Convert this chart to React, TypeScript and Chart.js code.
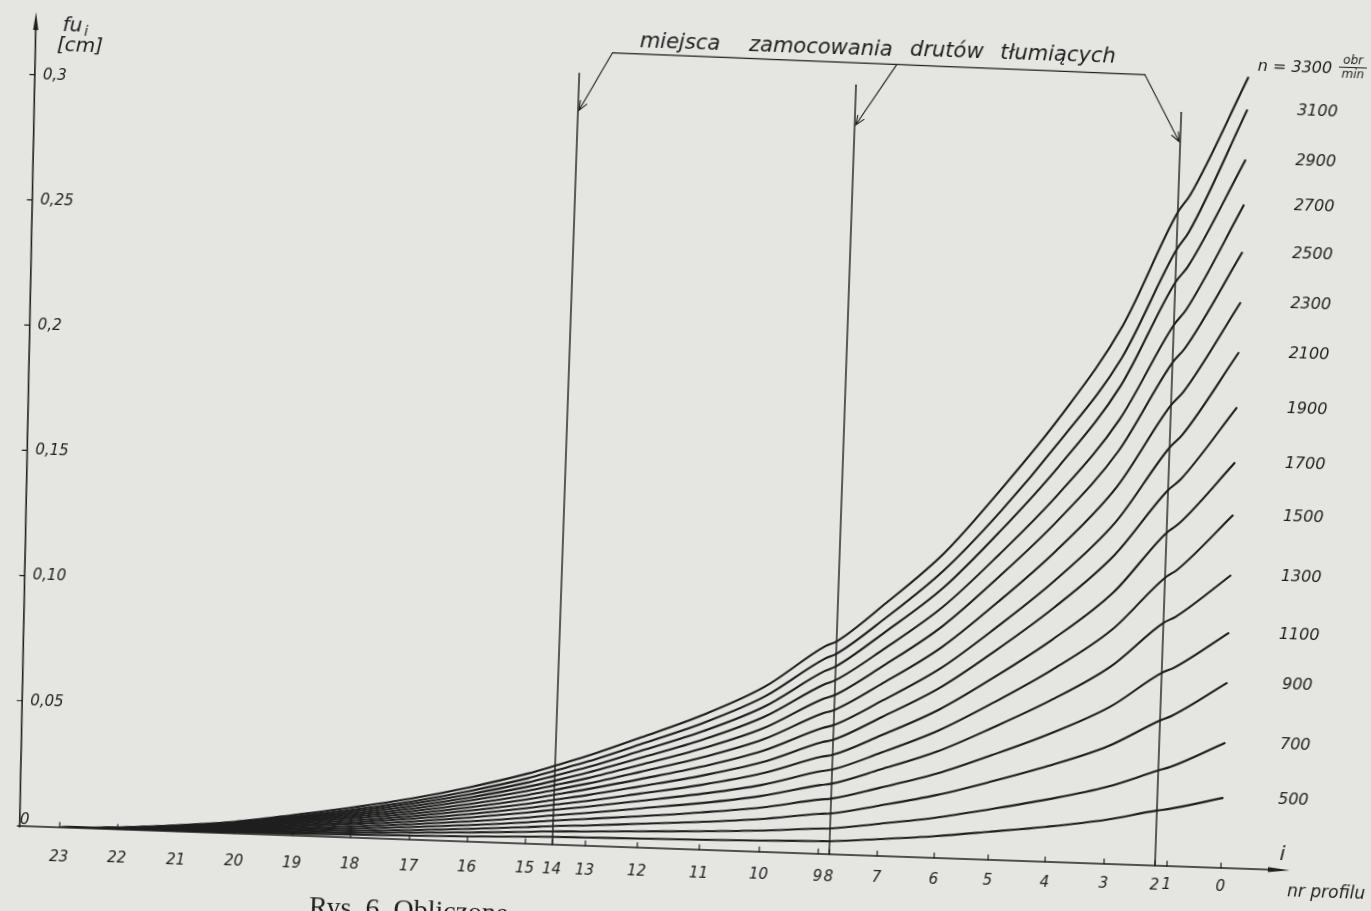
import React, { useEffect, useRef } from "react";
import { Chart, registerables } from "chart.js";

Chart.register(...registerables);

// ---------- data ----------
const profiles = [23, 22, 21, 20, 19, 18, 17, 16, 15, 14, 13, 12, 11, 10, 9, 8, 7, 6, 5, 4, 3, 2, 1, 0];
const profilePos = [0, 5.8, 11.7, 17.5, 23.3, 29.1, 35.0, 40.8, 46.6, 49.3, 52.6, 57.8, 64.0, 70.0, 75.9, 77.0, 81.8, 87.5, 92.9, 98.6, 104.5, 109.6, 110.8, 116.2];

const speeds = [3300, 3100, 2900, 2700, 2500, 2300, 2100, 1900, 1700, 1500, 1300, 1100, 900, 700, 500];

const n3300 = [0, 0.0008, 0.0025, 0.0047, 0.0082, 0.012, 0.0164, 0.0217, 0.028, 0.0315, 0.036, 0.044, 0.054, 0.066, 0.083, 0.085, 0.101, 0.122, 0.148, 0.178, 0.215, 0.261, 0.2682, 0.316];
const n3100 = [0, 0.0007, 0.0023, 0.0044, 0.0076, 0.0111, 0.0152, 0.0202, 0.0261, 0.0295, 0.0337, 0.0413, 0.0507, 0.062, 0.078, 0.08, 0.095, 0.115, 0.139, 0.168, 0.202, 0.246, 0.2534, 0.303];
const n2900 = [0, 0.0007, 0.0022, 0.0041, 0.0071, 0.0104, 0.0143, 0.0189, 0.0244, 0.0275, 0.0314, 0.0386, 0.0474, 0.058, 0.073, 0.075, 0.0894, 0.108, 0.131, 0.158, 0.191, 0.233, 0.2395, 0.283];
const n2700 = [0, 0.0006, 0.002, 0.0038, 0.0066, 0.0097, 0.0133, 0.0176, 0.0227, 0.0255, 0.0292, 0.0358, 0.044, 0.0539, 0.0677, 0.0695, 0.0828, 0.1003, 0.1218, 0.1467, 0.1775, 0.216, 0.2224, 0.265];
const n2500 = [0, 0.0006, 0.0019, 0.0036, 0.0062, 0.009, 0.0123, 0.0164, 0.0211, 0.0237, 0.027, 0.033, 0.0405, 0.0494, 0.062, 0.0636, 0.0761, 0.0925, 0.1127, 0.136, 0.1649, 0.201, 0.2069, 0.246];
const n2300 = [0, 0.0005, 0.0017, 0.0033, 0.0057, 0.0083, 0.0113, 0.015, 0.0194, 0.0218, 0.0248, 0.0302, 0.0369, 0.0449, 0.0562, 0.0576, 0.0691, 0.0841, 0.1027, 0.1242, 0.1508, 0.184, 0.1895, 0.226];
const n2100 = [0, 0.0005, 0.0016, 0.003, 0.0052, 0.0076, 0.0103, 0.0137, 0.0177, 0.0199, 0.0226, 0.0273, 0.0332, 0.0403, 0.0503, 0.0516, 0.0621, 0.0758, 0.0928, 0.1124, 0.1367, 0.167, 0.1721, 0.206];
const n1900 = [0, 0.0004, 0.0014, 0.0027, 0.0047, 0.0068, 0.0093, 0.0124, 0.0159, 0.0179, 0.0202, 0.0244, 0.0296, 0.0358, 0.0446, 0.0457, 0.0555, 0.068, 0.0835, 0.1015, 0.1235, 0.15, 0.1544, 0.184];
const n1700 = [0, 0.0004, 0.0013, 0.0024, 0.0041, 0.006, 0.0083, 0.011, 0.0142, 0.0159, 0.0179, 0.0215, 0.0259, 0.0313, 0.0388, 0.0397, 0.0482, 0.0593, 0.073, 0.0889, 0.1085, 0.133, 0.1368, 0.162];
const n1500 = [0, 0.0003, 0.0011, 0.0021, 0.0036, 0.0053, 0.0072, 0.0096, 0.0124, 0.0139, 0.0156, 0.0186, 0.0223, 0.0267, 0.033, 0.0338, 0.0412, 0.0509, 0.0628, 0.0766, 0.0936, 0.115, 0.1184, 0.141];
const n1300 = [0, 0.0003, 0.0009, 0.0018, 0.003, 0.0044, 0.0061, 0.0081, 0.0104, 0.0117, 0.0131, 0.0156, 0.0186, 0.0223, 0.0275, 0.0282, 0.0345, 0.0426, 0.0528, 0.0645, 0.0789, 0.097, 0.0996, 0.117];
const n1100 = [0, 0.0002, 0.0008, 0.0014, 0.0025, 0.0036, 0.005, 0.0066, 0.0085, 0.0096, 0.0107, 0.0125, 0.0149, 0.0177, 0.0217, 0.0222, 0.0272, 0.0337, 0.0418, 0.0511, 0.0626, 0.077, 0.0792, 0.094];
const n900 = [0, 0.0002, 0.0006, 0.0011, 0.0019, 0.0028, 0.0038, 0.0051, 0.0066, 0.0074, 0.0081, 0.0095, 0.0111, 0.0131, 0.016, 0.0163, 0.0201, 0.0251, 0.0312, 0.0383, 0.047, 0.058, 0.0601, 0.074];
const n700 = [0, 0.0001, 0.0004, 0.0008, 0.0014, 0.002, 0.0028, 0.0037, 0.0047, 0.0053, 0.0057, 0.0065, 0.0074, 0.0085, 0.0101, 0.0103, 0.0128, 0.0161, 0.0202, 0.0249, 0.0307, 0.038, 0.0396, 0.05];
const n500 = [0, 0.0001, 0.0002, 0.0005, 0.0008, 0.0012, 0.0016, 0.0021, 0.0028, 0.0031, 0.0033, 0.0036, 0.004, 0.0045, 0.0051, 0.0052, 0.0067, 0.0087, 0.0112, 0.014, 0.0176, 0.022, 0.0228, 0.028];

const series = [n3300, n3100, n2900, n2700, n2500, n2300, n2100, n1900, n1700, n1500, n1300, n1100, n900, n700, n500];

const wireProfiles = [14, 8, 2];
const yTickValues = [0.05, 0.1, 0.15, 0.2, 0.25, 0.3];
const yTickLabels = ["0,05", "0,10", "0,15", "0,2", "0,25", "0,3"];
const annotationWords = ["miejsca", "zamocowania", "drutów", "tłumiących"];
const unitTop = "obr";
const unitBottom = "min";
const axisTitleMain = "fu";
const axisTitleSub = "i";
const axisUnit = "[cm]";
const xAxisSymbol = "i";
const xAxisTitle = "nr profilu";
const caption = "Rys. 6. Obliczone";

// ---------- layout / style ----------
const W = 1421;
const H = 961;
const O = 25;
const INK = "#1f1f1f";
const PAPER = "#e5e5e2";
const FONT = '"DejaVu Sans", sans-serif';

const posOf = (p: number) => profilePos[profiles.indexOf(p)];

function filledArrow(ctx: CanvasRenderingContext2D, x0: number, y0: number, x1: number, y1: number, len: number, half: number) {
  const dx = x1 - x0, dy = y1 - y0, d = Math.hypot(dx, dy);
  const ux = dx / d, uy = dy / d;
  const bx = x1 - ux * len, by = y1 - uy * len;
  ctx.beginPath();
  ctx.moveTo(x1, y1);
  ctx.lineTo(bx - uy * half, by + ux * half);
  ctx.lineTo(bx + uy * half, by - ux * half);
  ctx.closePath();
  ctx.fill();
}

function openArrow(ctx: CanvasRenderingContext2D, x0: number, y0: number, x1: number, y1: number, len: number, ang: number) {
  const a = Math.atan2(y1 - y0, x1 - x0);
  ctx.beginPath();
  ctx.moveTo(x0, y0);
  ctx.lineTo(x1, y1);
  ctx.moveTo(x1 - len * Math.cos(a - ang), y1 - len * Math.sin(a - ang));
  ctx.lineTo(x1, y1);
  ctx.lineTo(x1 - len * Math.cos(a + ang), y1 - len * Math.sin(a + ang));
  ctx.stroke();
}

const decor = {
  id: "decor",
  beforeDraw(chart: any) {
    const ctx = chart.ctx;
    ctx.save();
    ctx.fillStyle = PAPER;
    ctx.fillRect(0, 0, chart.width, chart.height);
    ctx.restore();
  },
  beforeDatasetsDraw(chart: any) {
    const { ctx, chartArea: ca, scales } = chart;
    const xs = scales.x, ys = scales.y;
    ctx.save();
    ctx.strokeStyle = INK;
    ctx.fillStyle = INK;
    ctx.lineCap = "round";

    const axB = ca.left + 5, axT = ca.left - 7;
    const axisXAt = (py: number) => axB + (axT - axB) * (ca.bottom - py) / (ca.bottom - ca.top);

    // y axis
    ctx.lineWidth = 1.6;
    ctx.beginPath();
    ctx.moveTo(axB, ca.bottom + 1);
    ctx.lineTo(axisXAt(ca.top + 12), ca.top + 12);
    ctx.stroke();
    filledArrow(ctx, axB, ca.bottom, axT, ca.top, 18, 2.6);

    // x axis
    ctx.beginPath();
    ctx.moveTo(axB - 2, ca.bottom);
    ctx.lineTo(ca.right - 14, ca.bottom);
    ctx.stroke();
    filledArrow(ctx, ca.left, ca.bottom, ca.right, ca.bottom, 22, 2.4);

    // y ticks
    ctx.lineWidth = 1.2;
    yTickValues.forEach((v) => {
      const py = ys.getPixelForValue(v);
      const ax = axisXAt(py);
      ctx.beginPath();
      ctx.moveTo(ax - 5, py);
      ctx.lineTo(ax, py);
      ctx.stroke();
    });

    // x ticks
    profilePos.forEach((p) => {
      const px = xs.getPixelForValue(p);
      ctx.beginPath();
      ctx.moveTo(px, ca.bottom);
      ctx.lineTo(px, ca.bottom - 5);
      ctx.stroke();
    });

    // damping wire lines
    const wireTops = [0.3082, 0.3073, 0.3009];
    ctx.lineWidth = 1.4;
    const wx = wireProfiles.map((p) => xs.getPixelForValue(posOf(p)));
    wireProfiles.forEach((p, i) => {
      ctx.beginPath();
      ctx.moveTo(wx[i], ca.bottom);
      ctx.lineTo(wx[i], ys.getPixelForValue(wireTops[i]));
      ctx.stroke();
    });

    // bracket with arrows
    ctx.lineWidth = 1.1;
    const bl = { x: 623.5, y: 80.6 }, br = { x: 1156.4, y: 83.9 };
    ctx.beginPath();
    ctx.moveTo(bl.x, bl.y);
    ctx.lineTo(br.x, br.y);
    ctx.stroke();
    const midX = 908;
    const midY = bl.y + (br.y - bl.y) * (midX - bl.x) / (br.x - bl.x);
    openArrow(ctx, bl.x, bl.y, wx[0] + 1, 139.3, 10, 0.38);
    openArrow(ctx, midX, midY, wx[1] + 1, 144.3, 10, 0.38);
    openArrow(ctx, br.x, br.y, wx[2] - 1, 149.8, 10, 0.38);
    ctx.restore();
  },
  afterDatasetsDraw(chart: any) {
    const { ctx, chartArea: ca, scales } = chart;
    const xs = scales.x, ys = scales.y;
    const axB = ca.left + 5, axT = ca.left - 7;
    const axisXAt = (py: number) => axB + (axT - axB) * (ca.bottom - py) / (ca.bottom - ca.top);
    ctx.save();
    ctx.fillStyle = INK;
    ctx.strokeStyle = INK;

    // y tick labels
    ctx.font = `italic 15px ${FONT}`;
    ctx.textAlign = "left";
    ctx.textBaseline = "middle";
    yTickValues.forEach((v, i) => {
      const py = ys.getPixelForValue(v);
      ctx.fillText(yTickLabels[i], axisXAt(py) + 8, py);
    });
    ctx.fillText("0", axB, ca.bottom - 6);

    // x tick labels
    ctx.textAlign = "center";
    const p0 = xs.getPixelForValue(profilePos[0]);
    const pN = xs.getPixelForValue(profilePos[profilePos.length - 1]);
    profiles.forEach((p, i) => {
      const px = xs.getPixelForValue(profilePos[i]);
      const t = (px - p0) / (pN - p0);
      ctx.fillText(String(p), px, ca.bottom + 30 - 11 * t);
    });

    // axis titles
    ctx.textAlign = "left";
    ctx.textBaseline = "alphabetic";
    ctx.font = `italic 20px ${FONT}`;
    ctx.fillText(axisTitleMain, 73, 78);
    const fw = ctx.measureText(axisTitleMain).width;
    ctx.font = `italic 14px ${FONT}`;
    ctx.fillText(axisTitleSub, 73 + fw + 2, 82);
    ctx.font = `italic 20px ${FONT}`;
    ctx.fillText(axisUnit, 68, 98);

    ctx.textAlign = "center";
    ctx.textBaseline = "middle";
    ctx.font = `italic 20px ${FONT}`;
    ctx.fillText(xAxisSymbol, 1321, 859);
    ctx.font = `italic 17px ${FONT}`;
    ctx.fillText(xAxisTitle, 1366, 896);

    // annotation
    ctx.font = `italic 21px ${FONT}`;
    ctx.textBaseline = "alphabetic";
    const wordX = [690.6, 831.6, 957.6, 1068.7];
    const wordY = [73.5, 73.5, 73, 72.5];
    annotationWords.forEach((w, i) => ctx.fillText(w, wordX[i], wordY[i]));

    // speed labels
    ctx.textBaseline = "middle";
    ctx.font = `italic 16px ${FONT}`;
    speeds.forEach((s, i) => {
      const arr = series[i];
      const ey = ys.getPixelForValue(arr[arr.length - 1]);
      ctx.textAlign = "center";
      if (i === 0) {
        ctx.fillText(`n = ${s}`, 1306, ey - 11);
        const fx = 1364, fy = ey - 13;
        ctx.font = `italic 12px ${FONT}`;
        ctx.fillText(unitTop, fx, fy - 7);
        ctx.fillText(unitBottom, fx, fy + 7);
        ctx.lineWidth = 1;
        ctx.beginPath();
        ctx.moveTo(fx - 14, fy);
        ctx.lineTo(fx + 14, fy);
        ctx.stroke();
        ctx.font = `italic 16px ${FONT}`;
      } else {
        ctx.fillText(String(s), 1330, ey);
      }
    });

    // caption (cut by page edge)
    ctx.textAlign = "left";
    ctx.textBaseline = "alphabetic";
    ctx.font = `28px "Liberation Serif", serif`;
    ctx.fillText(caption, 350, 953);
    ctx.restore();
  },
};

export default function App() {
  const ref = useRef<HTMLCanvasElement>(null);
  useEffect(() => {
    const canvas = ref.current;
    if (!canvas) return;
    const chart = new Chart(canvas, {
      type: "line",
      data: {
        datasets: speeds.map((s, i) => ({
          label: `${s}`,
          data: profilePos.map((x, j) => ({ x, y: series[i][j] })),
          borderColor: INK,
          borderWidth: 2.1,
          pointRadius: 0,
          fill: false,
          cubicInterpolationMode: "monotone" as const,
          borderJoinStyle: "round" as const,
        })),
      },
      options: {
        responsive: false,
        animation: false,
        events: [],
        layout: { padding: { left: 53, right: 92, top: 60, bottom: 87 } },
        plugins: { legend: { display: false }, tooltip: { enabled: false } },
        scales: {
          x: { type: "linear", min: -4.5, max: 123.1, display: false },
          y: { type: "linear", min: 0, max: 0.325, display: false },
        },
      },
      plugins: [decor],
    });
    return () => chart.destroy();
  }, []);

  return (
    <div style={{ position: "fixed", left: 0, top: 0, width: "100vw", height: "100vh", overflow: "hidden", background: PAPER }}>
      <canvas
        ref={ref}
        width={W}
        height={H}
        style={{ position: "absolute", left: -O, top: -O, width: W, height: H, transform: "rotate(2deg)", transformOrigin: "50% 50%" }}
      />
    </div>
  );
}
